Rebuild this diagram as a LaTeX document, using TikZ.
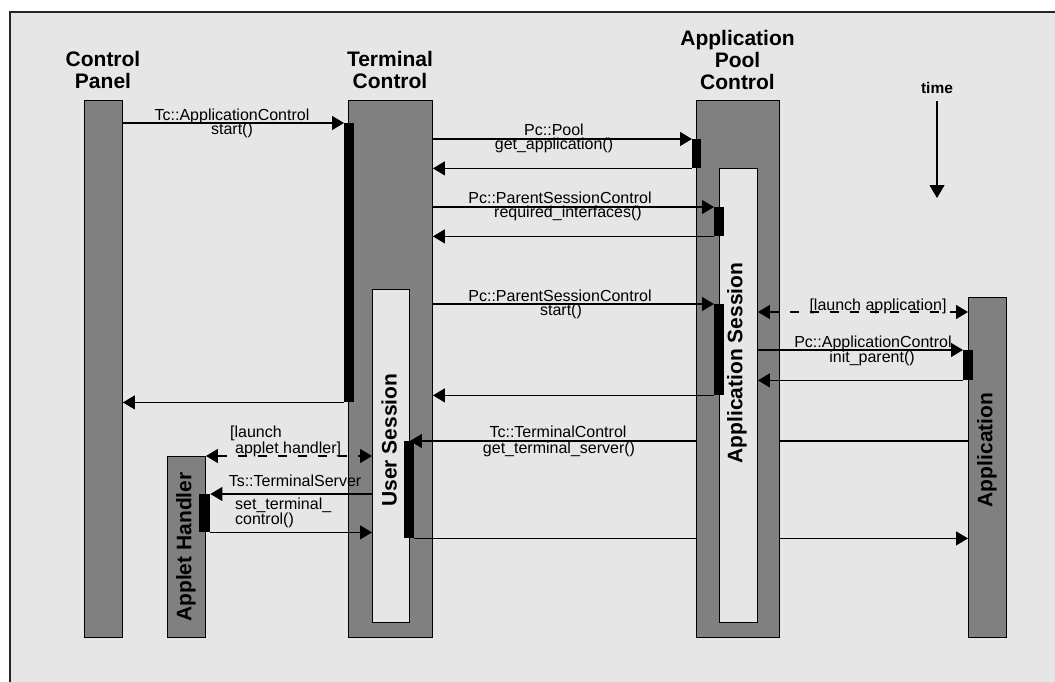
\documentclass[tikz,border=0pt]{standalone}
\usepackage{fontspec}
\setmainfont{Liberation Sans}
\usetikzlibrary{arrows.meta}
\definecolor{bgc}{HTML}{E6E6E6}
\definecolor{colg}{HTML}{808080}
\tikzset{
  lifeline/.style={draw=black, line width=0.9pt, fill=colg, inner sep=0, anchor=north west, minimum width=#1},
  session/.style={draw=black, line width=0.9pt, fill=bgc, inner sep=0, anchor=north west, minimum width=#1},
  actbar/.style={fill=black, draw=none, inner sep=0, anchor=north west, minimum width=#1},
  msg/.style={line width=1.2pt, -{Triangle[length=12pt,width=14pt]}},
  dmsg/.style={line width=1.2pt, dash pattern=on 9pt off 11pt, {Triangle[length=12pt,width=14pt]}-{Triangle[length=12pt,width=14pt]}},
  lbl/.style={inner sep=0, anchor=base, font=\fontsize{16}{16}\selectfont},
  lbll/.style={inner sep=0, anchor=base west, font=\fontsize{16}{16}\selectfont},
  head/.style={inner sep=0, anchor=south, align=center, font=\bfseries\fontsize{21}{21.7}\selectfont},
  vlabel/.style={inner sep=0, rotate=90, font=\bfseries\fontsize{21}{21}\selectfont},
}
\begin{document}
\begin{tikzpicture}[x=1pt,y=-1pt]
\useasboundingbox (0,0) rectangle (1055,681);
\clip (0,0) rectangle (1055,681);
\draw[fill=bgc, line width=1.4pt, draw=black!85] (10,12) rectangle (1080,720);

% headings
\node[head] (hcp) at (103,89) {Control\\Panel};
\node[head] (htc) at (390,89) {Terminal\\Control};
\node[head] (hpc) at (737.5,89.5) {Application\\Pool\\Control};
\node[inner sep=0, anchor=base, font=\bfseries\fontsize{15.5}{15.5}\selectfont] (htime) at (937,93) {time};
\coordinate (t1) at (937,101);
\coordinate (t2) at (937,198);
\draw[line width=1.2pt, -{Triangle[length=13pt,width=15pt]}] (t1) -- (t2);

% lifelines
\node[lifeline=38pt, minimum height=537pt] (cp) at (84,100) {};
\node[lifeline=38pt, minimum height=181pt] (ah) at (167,456) {};
\node[lifeline=84pt, minimum height=537pt] (tc) at (348,100) {};
\node[session=37pt, minimum height=333pt] (us) at (372,289) {};
\node[lifeline=83pt, minimum height=537pt] (pc) at (696,100) {};
\node[session=38pt, minimum height=454pt] (as) at (719,168) {};
\node[lifeline=38pt, minimum height=340pt] (ap) at (968,297) {};

% rotated labels
\node[vlabel] (usl) at (389,440) {User Session};
\node[vlabel] (asl) at (737,363) {Application Session};
\node[vlabel] (ahl) at (186,547) {Applet Handler};
\node[vlabel] (apl) at (987,450) {Application};

% activation bars
\node[actbar=10pt, minimum height=279pt] (b1) at (344,123) {};
\node[actbar=9pt, minimum height=29pt] (b2) at (692,139) {};
\node[actbar=10pt, minimum height=29pt] (b3) at (714,207) {};
\node[actbar=10pt, minimum height=91pt] (b4) at (714,304) {};
\node[actbar=10pt, minimum height=30pt] (b5) at (963,350) {};
\node[actbar=10pt, minimum height=97pt] (b6) at (404,441) {};
\node[actbar=11pt, minimum height=38pt] (b7) at (199,494) {};

% messages
\draw[msg] (cp.east |- b1.north) -- (b1.north west);
\node[lbl] (l1a) at (232,120) {Tc::ApplicationControl};
\node[lbl] (l1b) at (232,134) {start()};

\draw[msg] (tc.east |- b2.north) -- (b2.north west);
\node[lbl] (l2a) at (554,135) {Pc::Pool};
\node[lbl] (l2b) at (554,149) {get\_application()};
\draw[msg] (b2.south west) -- (tc.east |- b2.south);

\draw[msg] (tc.east |- b3.north) -- (b3.north west);
\node[lbl] (l3a) at (560,203) {Pc::ParentSessionControl};
\node[lbl] (l3b) at (568,217) {required\_interfaces()};
\draw[msg] (b3.south west) -- (tc.east |- b3.south);

\draw[msg] (tc.east |- b4.north) -- (b4.north west);
\node[lbl] (l4a) at (560,301) {Pc::ParentSessionControl};
\node[lbl] (l4b) at (561,315) {start()};
\draw[msg] (b4.south west) -- (tc.east |- b4.south);

\draw[msg] (b1.south west) -- (cp.east |- b1.south);

\coordinate (yla) at (0,312);
\draw[dmsg] (as.east |- yla) -- (ap.west |- yla);
\node[lbl] (l5) at (878,310) {[launch application]};

\draw[msg] (as.east |- b5.north) -- (b5.north west);
\node[lbl] (l6a) at (873,347) {Pc::ApplicationControl};
\node[lbl] (l6b) at (872,362) {init\_parent()};
\draw[msg] (b5.south west) -- (as.east |- b5.south);

\draw[line width=1.2pt] (ap.west |- b6.north) -- (pc.east |- b6.north);
\draw[msg] (pc.west |- b6.north) -- (us.east |- b6.north);
\node[lbl] (l7a) at (558,437) {Tc::TerminalControl};
\node[lbl] (l7b) at (559,453) {get\_terminal\_server()};

\draw[line width=1.2pt] (b6.south east) -- (pc.west |- b6.south);
\draw[msg] (pc.east |- b6.south) -- (ap.west |- b6.south);

\draw[dmsg] (ah.north east) -- (us.west |- ah.north);
\node[lbll] (l8a) at (230,437) {[launch};
\node[lbll] (l8b) at (235,453) {applet handler]};

\draw[msg] (us.west |- b7.north) -- (b7.north east);
\node[lbl] (l9) at (295,486) {Ts::TerminalServer};
\node[lbll] (l9b) at (235,509) {set\_terminal\_};
\node[lbll] (l9c) at (235,524) {control()};
\draw[msg] (b7.south east) -- (us.west |- b7.south);
\end{tikzpicture}
\end{document}
